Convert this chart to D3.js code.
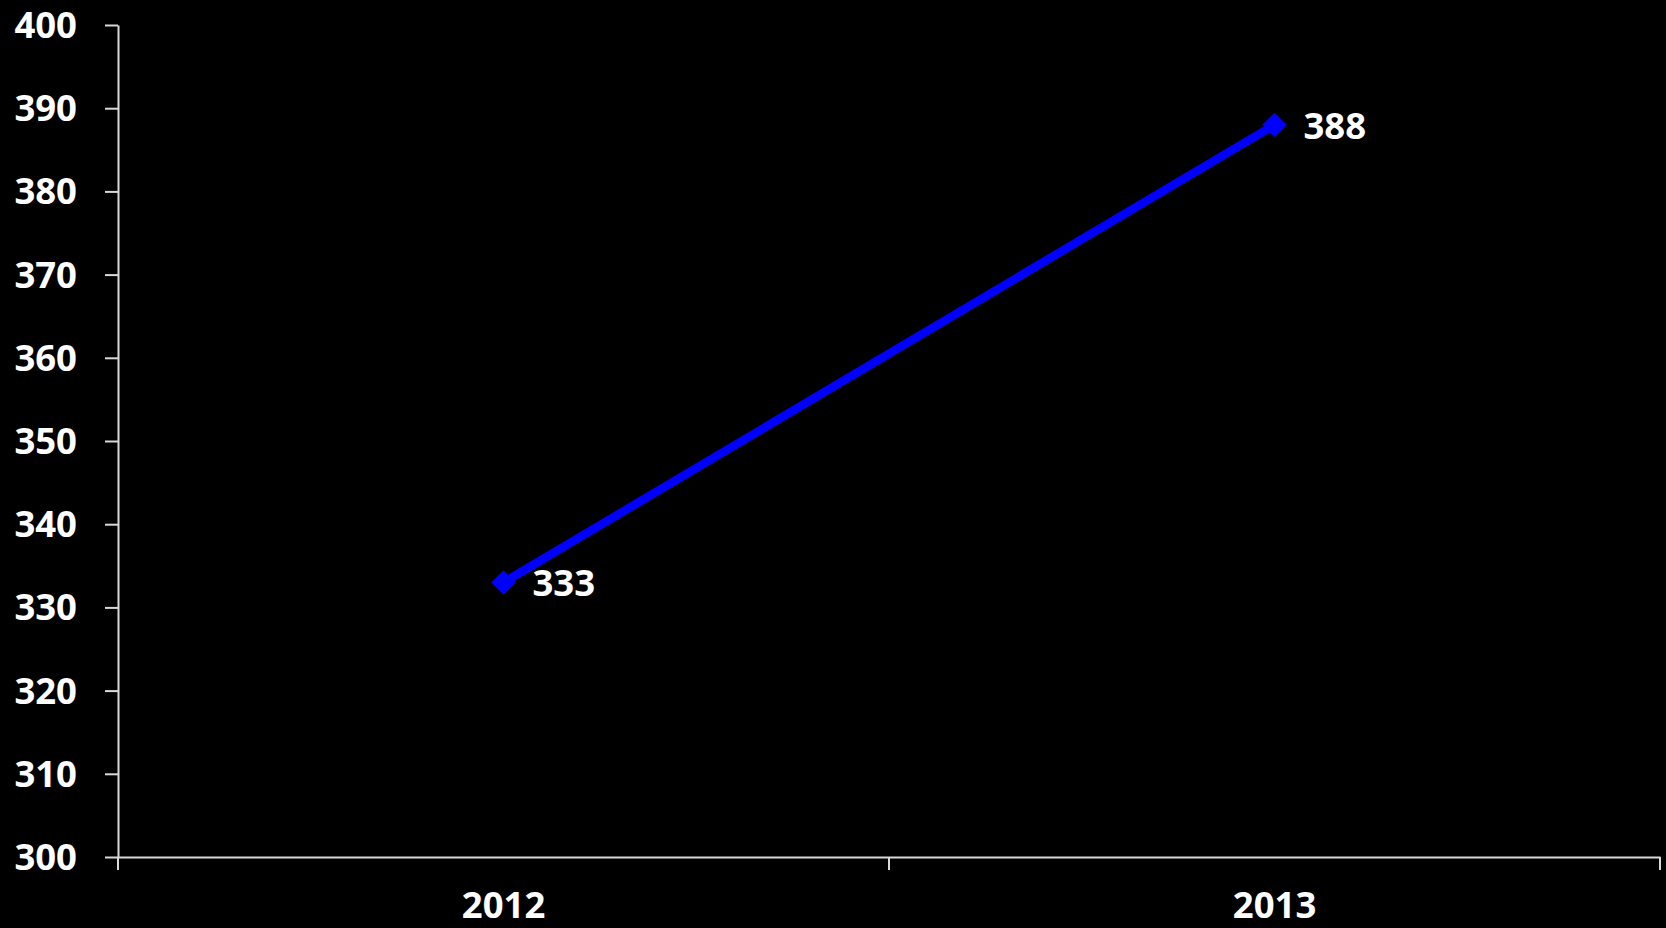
<!DOCTYPE html>
<html><head><meta charset="utf-8">
<script src="https://cdn.jsdelivr.net/npm/d3@7"></script>
<style>html,body{margin:0;padding:0;background:#000;}svg{display:block;}</style>
</head><body>
<script>
const categories = ["2012", "2013"];
const values = [333, 388];
const yTicks = [300, 310, 320, 330, 340, 350, 360, 370, 380, 390, 400];

const W = 1666, H = 928;
const m = {left: 118, right: 6, top: 25, bottom: 71};
const svg = d3.select("body").append("svg").attr("width", W).attr("height", H)
  .style("background", "#000");

const x = d3.scaleBand().domain(categories).range([m.left, W - m.right]).paddingInner(0).paddingOuter(0);
const y = d3.scaleLinear().domain([300, 400]).range([H - m.bottom, m.top]);

const font = "'Open Sans', sans-serif";
const axisColor = "#d9d9d9";

// Y axis
const yAxis = svg.append("g").attr("transform", `translate(${m.left},0)`)
  .call(d3.axisLeft(y).tickValues(yTicks).tickSize(13).tickPadding(28).tickSizeOuter(0));
yAxis.select(".domain").attr("stroke", axisColor).attr("stroke-width", 2);
yAxis.selectAll(".tick line").attr("stroke", axisColor).attr("stroke-width", 2);
yAxis.selectAll(".tick text").attr("fill", "#fff").style("font-family", font)
  .style("font-weight", "bold").style("font-size", "36.5px").attr("dy", "0.34em");

// X axis
const xAxis = svg.append("g").attr("transform", `translate(0,${H - m.bottom})`)
  .call(d3.axisBottom(x).tickSize(0).tickPadding(0).tickSizeOuter(0));
xAxis.select(".domain").attr("stroke", axisColor).attr("stroke-width", 2);
xAxis.selectAll(".tick text").attr("fill", "#fff").style("font-family", font)
  .style("font-weight", "bold").style("font-size", "36.5px").attr("y", 61).attr("dy", 0);
// boundary ticks between categories
const bounds = [x.range()[0], ...categories.map(c => x(c) + x.bandwidth())];
xAxis.selectAll(".btick").data(bounds).enter().append("line")
  .attr("x1", d => d).attr("x2", d => d).attr("y1", 0).attr("y2", 13)
  .attr("stroke", axisColor).attr("stroke-width", 2);

// Line
const pts = categories.map((c, i) => ({c, v: values[i]}));
const cx = d => x(d.c) + x.bandwidth() / 2;
svg.append("path").datum(pts)
  .attr("d", d3.line().x(cx).y(d => y(d.v)))
  .attr("fill", "none").attr("stroke", "#0000ff").attr("stroke-width", 8.5);

// Markers (diamonds)
svg.selectAll(".mk").data(pts).enter().append("path")
  .attr("transform", d => `translate(${cx(d)},${y(d.v)})`)
  .attr("d", d3.symbol().type(d3.symbolDiamond2).size(380))
  .attr("fill", "#0000ff");

// Data labels
svg.selectAll(".lbl").data(pts).enter().append("text")
  .attr("x", d => cx(d) + 29).attr("y", d => y(d.v)).attr("dy", "0.38em")
  .attr("fill", "#fff").style("font-family", font).style("font-weight", "bold")
  .style("font-size", "36.5px").text(d => d.v);
</script>
</body></html>
